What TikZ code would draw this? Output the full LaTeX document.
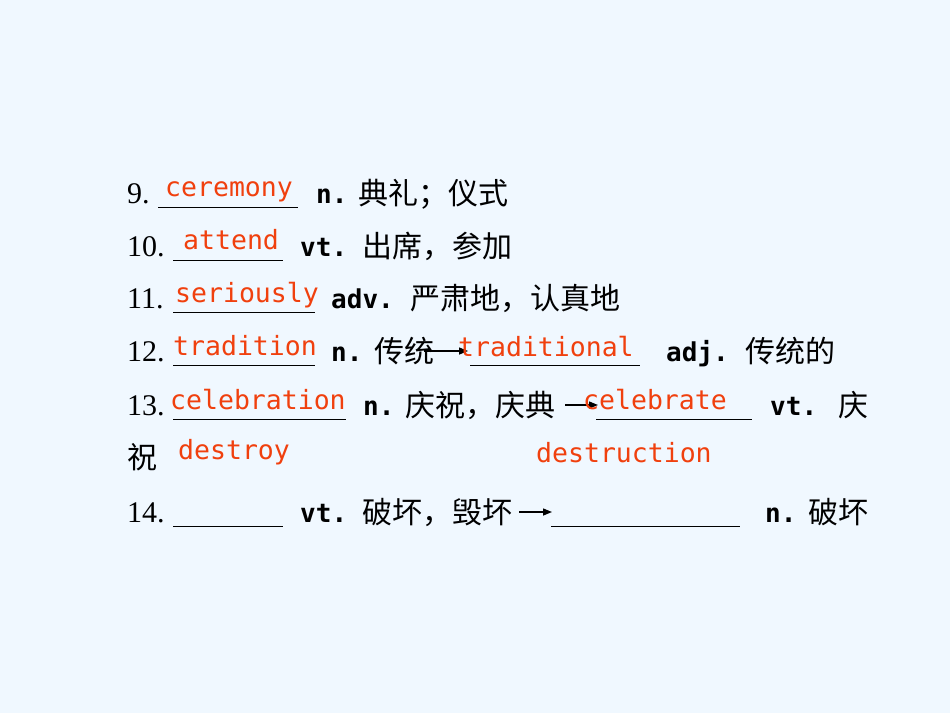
\documentclass[tikz,border=0pt]{standalone}
\usepackage{fontspec}
\setmainfont{Liberation Serif}
\newfontfamily\cjk{Noto Sans CJK SC}
\newfontfamily\mono{DejaVu Sans Mono}
\usetikzlibrary{arrows.meta}
\definecolor{bg}{HTML}{F0F8FF}
\definecolor{ans}{HTML}{F0400E}
\begin{document}
\begin{tikzpicture}[x=1pt,y=-1pt,
  t/.style={anchor=base west,inner sep=0pt,font=\fontsize{30}{30}\selectfont},
  c/.style={t,font=\fontsize{30}{30}\selectfont\cjk},
  b/.style={t,font=\fontsize{26}{26}\selectfont\mono\bfseries},
  a/.style={t,text=ans,font=\fontsize{26.5}{26.5}\selectfont\mono},
  ul/.style={line width=0.8pt},
  ar/.style={line width=1.4pt,-{Triangle[length=9pt,width=7pt]}}]
\fill[bg] (0,0) rectangle (950,713);
\useasboundingbox (0,0) rectangle (950,713);
% 9
\node[t] (n9) at (127,203) {9.};
\coordinate (u9a) at (158,207); \coordinate (u9b) at (298,207); \draw[ul] (u9a)--(u9b);
\node[a] (a9) at (165,196) {ceremony};
\node[b] (p9) at (316,203) {n.};
\node[c] (m9) at (358,204) {典礼；仪式};
% 10
\node[t] (n10) at (127,256) {10.};
\coordinate (u10a) at (173,260); \coordinate (u10b) at (283,260); \draw[ul] (u10a)--(u10b);
\node[a] (a10) at (183,249) {attend};
\node[b] (p10) at (300,256) {vt.};
\node[c] (m10) at (362,257) {出席，参加};
% 11
\node[t] (n11) at (127,308) {11.};
\coordinate (u11a) at (173,312); \coordinate (u11b) at (315,312); \draw[ul] (u11a)--(u11b);
\node[a] (a11) at (175,302) {seriously};
\node[b] (p11) at (331,308) {adv.};
\node[c] (m11) at (410,309) {严肃地，认真地};
% 12
\node[t] (n12) at (127,361) {12.};
\coordinate (u12a) at (173,365); \coordinate (u12b) at (315,365); \draw[ul] (u12a)--(u12b);
\node[a] (a12) at (173,355) {tradition};
\node[b] (p12) at (331,361) {n.};
\node[c] (m12) at (374,362) {传统};
\coordinate (r12a) at (424,351); \coordinate (r12b) at (468,351); \draw[ar] (r12a)--(r12b);
\coordinate (v12a) at (470,365); \coordinate (v12b) at (640,365); \draw[ul] (v12a)--(v12b);
\node[a] (b12) at (458,356) {traditional};
\node[b] (q12) at (666,361) {adj.};
\node[c] (k12) at (745,362) {传统的};
% 13
\node[t] (n13) at (127,415) {13.};
\coordinate (u13a) at (173,419); \coordinate (u13b) at (346,419); \draw[ul] (u13a)--(u13b);
\node[a] (a13) at (170,409) {celebration};
\node[b] (p13) at (363,415) {n.};
\node[c] (m13) at (405,416) {庆祝，庆典};
\coordinate (r13a) at (565,405); \coordinate (r13b) at (598,405); \draw[ar] (r13a)--(r13b);
\coordinate (v13a) at (596,419); \coordinate (v13b) at (752,419); \draw[ul] (v13a)--(v13b);
\node[a] (b13) at (583,409) {celebrate};
\node[b] (q13) at (770,415) {vt.};
\node[c] (k13) at (838,416) {庆};
\node[c] (z13) at (127,468) {祝};
\node[a] (a14) at (178,459) {destroy};
\node[a] (b14) at (536,462) {destruction};
% 14
\node[t] (n14) at (127,522) {14.};
\coordinate (u14a) at (173,526); \coordinate (u14b) at (283,526); \draw[ul] (u14a)--(u14b);
\node[b] (p14) at (300,522) {vt.};
\node[c] (m14) at (362,523) {破坏，毁坏};
\coordinate (r14a) at (519,512); \coordinate (r14b) at (552,512); \draw[ar] (r14a)--(r14b);
\coordinate (v14a) at (551,526); \coordinate (v14b) at (740,526); \draw[ul] (v14a)--(v14b);
\node[b] (q14) at (765,522) {n.};
\node[c] (k14) at (808,523) {破坏};
\end{tikzpicture}
\end{document}
